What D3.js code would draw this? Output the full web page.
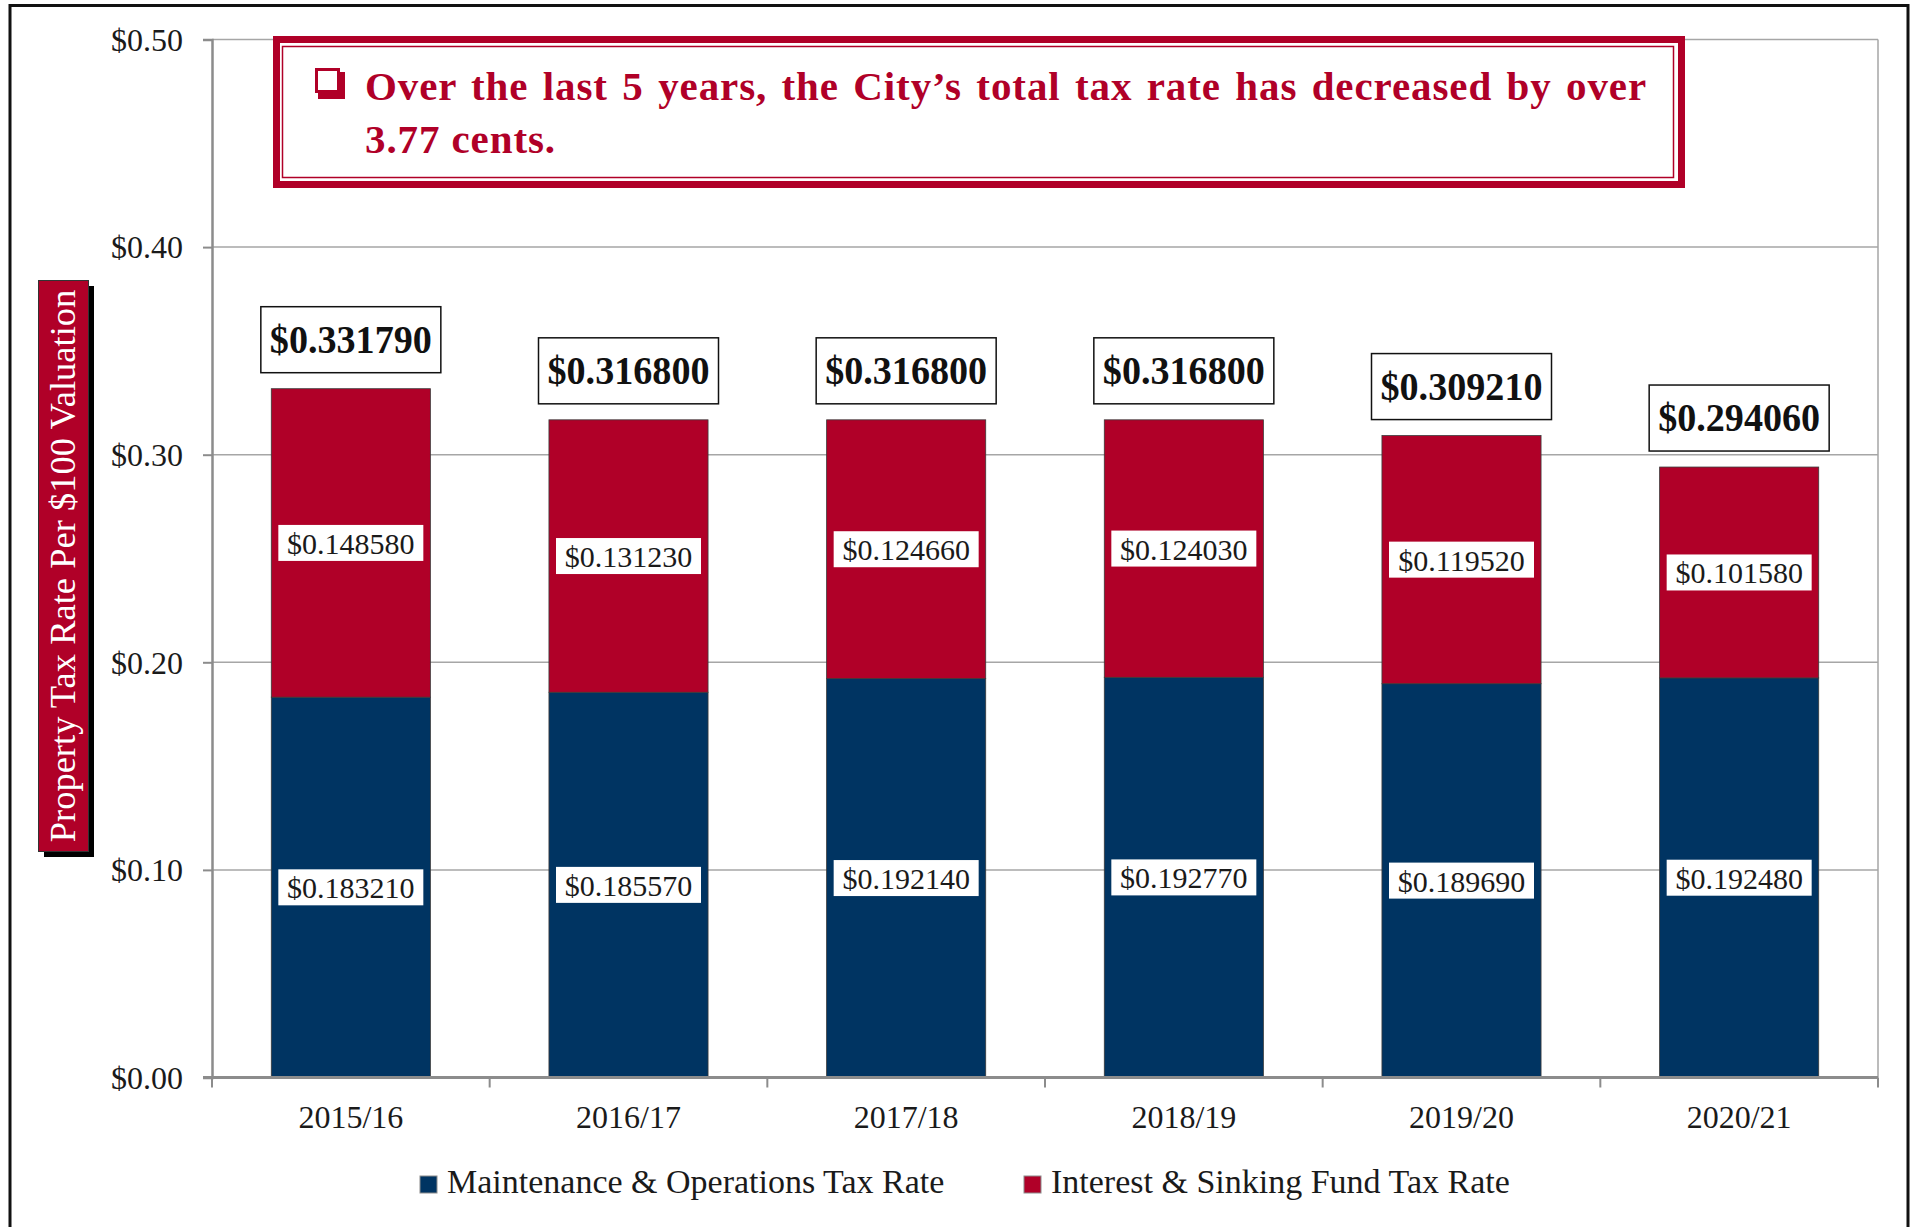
<!DOCTYPE html>
<html lang="en">
  <head>
    <meta charset="utf-8">
    <title>Property tax rate per $100 valuation</title>
    <script type="text/javascript" src="https://d3js.org/d3.v7.min.js"></script>
    <style>
      body {
        margin: 0;
        background: #ffffff;
        font-family: 'Liberation Serif', 'Times New Roman', serif;
      }
      .grid line {
        stroke: #a6a6a6;
        stroke-width: 1.5;
      }
      .bar {
        stroke: #3a3a3a;
        stroke-width: 0.8;
      }
      .tick-label {
        font-size: 32px;
        fill: #1a1a1a;
      }
    </style>
  </head>
  <body>
    <div id="chart"></div>
    <script type="text/javascript">

      // data
      var years = ['2015/16', '2016/17', '2017/18', '2018/19', '2019/20', '2020/21'];
      var moRates = [0.183210, 0.185570, 0.192140, 0.192770, 0.189690, 0.192480];
      var isRates = [0.148580, 0.131230, 0.124660, 0.124030, 0.119520, 0.101580];
      var seriesNames = ['Maintenance & Operations Tax Rate', 'Interest & Sinking Fund Tax Rate'];
      var seriesColors = ['#003462', '#b00028'];
      var yTicks = [0, 0.1, 0.2, 0.3, 0.4, 0.5];
      var yTitle = 'Property Tax Rate Per $100 Valuation';
      var calloutLines = ['Over the last 5 years, the City\u2019s total tax rate has decreased by over', '3.77 cents.'];

      var w = 1915;
      var h = 1227;
      var red = '#b00028';

      var svg = d3.select('#chart')
        .append('svg')
          .attr('width', w)
          .attr('height', h)
          .style('display', 'block');

      // outer frame (no bottom edge visible)
      svg.append('path')
        .attr('d', 'M10,1227 L10,5.5 L1908,5.5 L1908,1227')
        .attr('fill', 'none')
        .attr('stroke', '#111')
        .attr('stroke-width', 3);

      var x = d3.scaleBand()
        .domain(years)
        .range([212, 1878])
        .paddingInner(0.427)
        .paddingOuter(0.2135);

      var y = d3.scaleLinear()
        .domain([0, 0.5])
        .range([1077.5, 39.5]);

      var step = x.step();

      // gridlines
      svg.append('g')
        .attr('class', 'grid')
        .selectAll('line')
        .data(yTicks.filter(function(d) { return d > 0; }))
        .enter()
        .append('line')
          .attr('x1', 212)
          .attr('x2', 1878)
          .attr('y1', function(d) { return y(d); })
          .attr('y2', function(d) { return y(d); });

      // right edge of plot area
      svg.append('line')
        .attr('x1', 1878).attr('x2', 1878)
        .attr('y1', y(0.5)).attr('y2', y(0))
        .attr('stroke', '#a6a6a6')
        .attr('stroke-width', 1.5);

      // stacked bars
      var table = years.map(function(yr, i) {
        return { year: yr, mo: moRates[i], is: isRates[i] };
      });
      var stack = d3.stack().keys(['mo', 'is']);
      var series = stack(table);

      var layers = svg.selectAll('.layer')
        .data(series)
        .enter()
        .append('g')
          .attr('class', 'layer')
          .style('fill', function(d, i) { return seriesColors[i]; });

      layers.selectAll('.bar')
        .data(function(d) { return d; })
        .enter()
        .append('rect')
          .attr('class', 'bar')
          .attr('x', function(d) { return x(d.data.year); })
          .attr('y', function(d) { return y(d[1]); })
          .attr('width', x.bandwidth())
          .attr('height', function(d) { return y(d[0]) - y(d[1]); });

      // segment labels (white boxes)
      var segLabels = svg.append('g');
      series.forEach(function(s) {
        s.forEach(function(d) {
          var cx = x(d.data.year) + x.bandwidth() / 2;
          var cy = y((d[0] + d[1]) / 2);
          var lab = segLabels.append('g').attr('transform', 'translate(' + cx + ',' + cy + ')');
          lab.append('rect')
            .attr('x', -72.5).attr('y', -18)
            .attr('width', 145).attr('height', 36)
            .attr('fill', '#ffffff');
          lab.append('text')
            .attr('text-anchor', 'middle')
            .attr('y', 11)
            .style('font-size', '30px')
            .style('fill', '#1a1a1a')
            .text('$' + (d[1] - d[0]).toFixed(6));
        });
      });

      // total labels above bars
      var totals = svg.append('g');
      table.forEach(function(d) {
        var total = d.mo + d.is;
        var cx = x(d.year) + x.bandwidth() / 2;
        var top = y(total);
        var lab = totals.append('g').attr('transform', 'translate(' + cx + ',' + (top - 16) + ')');
        lab.append('rect')
          .attr('x', -90).attr('y', -66)
          .attr('width', 180).attr('height', 66)
          .attr('fill', '#ffffff')
          .attr('stroke', '#111')
          .attr('stroke-width', 1.5);
        lab.append('text')
          .attr('text-anchor', 'middle')
          .attr('y', -20)
          .attr('textLength', 162)
          .attr('lengthAdjust', 'spacingAndGlyphs')
          .style('font-size', '41px')
          .style('font-weight', 'bold')
          .style('fill', '#111')
          .text('$' + total.toFixed(6));
      });

      // y axis
      var yAxis = d3.axisLeft(y)
        .tickValues(yTicks)
        .tickFormat(function(d) { return '$' + d.toFixed(2); })
        .tickSize(9)
        .tickPadding(20);

      var yAxisG = svg.append('g')
        .attr('transform', 'translate(212,0)')
        .call(yAxis);
      yAxisG.select('.domain').attr('stroke', '#8c8c8c').attr('stroke-width', 2.5);
      yAxisG.selectAll('.tick line').attr('stroke', '#8c8c8c').attr('stroke-width', 2);
      yAxisG.selectAll('.tick text')
        .attr('class', 'tick-label')
        .style('font-family', "'Liberation Serif', 'Times New Roman', serif")
        .attr('dy', '0.34em');

      // x axis: baseline, boundary ticks, year labels
      svg.append('line')
        .attr('x1', 203).attr('x2', 1878)
        .attr('y1', y(0)).attr('y2', y(0))
        .attr('stroke', '#8c8c8c')
        .attr('stroke-width', 3);

      var bounds = years.map(function(yr) { return x(yr) - step * x.paddingInner() / 2; });
      bounds.push(1878);
      svg.append('g')
        .selectAll('line')
        .data(bounds)
        .enter()
        .append('line')
          .attr('x1', function(d) { return d; })
          .attr('x2', function(d) { return d; })
          .attr('y1', y(0))
          .attr('y2', y(0) + 10)
          .attr('stroke', '#8c8c8c')
          .attr('stroke-width', 2);

      svg.append('g')
        .selectAll('text')
        .data(years)
        .enter()
        .append('text')
          .attr('class', 'tick-label')
          .attr('text-anchor', 'middle')
          .attr('x', function(d) { return x(d) + x.bandwidth() / 2; })
          .attr('y', 1128)
          .text(function(d) { return d; });

      // y axis title, red box with drop shadow
      svg.append('rect')
        .attr('x', 44).attr('y', 286)
        .attr('width', 50).attr('height', 571)
        .attr('fill', '#000');
      svg.append('rect')
        .attr('x', 38.5).attr('y', 280.5)
        .attr('width', 50).attr('height', 571)
        .attr('fill', red)
        .attr('stroke', '#333')
        .attr('stroke-width', 1);
      svg.append('text')
        .attr('transform', 'translate(75,' + 566 + ') rotate(-90)')
        .attr('text-anchor', 'middle')
        .style('font-size', '36.5px')
        .style('fill', '#ffffff')
        .text(yTitle);

      // callout box
      var callout = svg.append('g');
      callout.append('rect')
        .attr('x', 276.5).attr('y', 39.5)
        .attr('width', 1405).attr('height', 145)
        .attr('fill', '#ffffff')
        .attr('stroke', red)
        .attr('stroke-width', 7);
      callout.append('rect')
        .attr('x', 282.5).attr('y', 46.5)
        .attr('width', 1391).attr('height', 131)
        .attr('fill', 'none')
        .attr('stroke', red)
        .attr('stroke-width', 1.5);

      // shadowed box bullet
      callout.append('rect')
        .attr('x', 318).attr('y', 72)
        .attr('width', 27).attr('height', 27)
        .attr('fill', red);
      callout.append('rect')
        .attr('x', 316.5).attr('y', 69.5)
        .attr('width', 22).attr('height', 22)
        .attr('fill', '#ffffff')
        .attr('stroke', red)
        .attr('stroke-width', 3);

      var line1 = callout.append('text')
        .attr('x', 365).attr('y', 100)
        .style('font-size', '41px')
        .style('font-weight', 'bold')
        .style('letter-spacing', '0.9px')
        .style('fill', red)
        .text(calloutLines[0]);
      var gaps = calloutLines[0].split(' ').length - 1;
      var natural = line1.node().getComputedTextLength();
      line1.style('word-spacing', Math.max(0, (1647 - 365 - natural) / gaps) + 'px');

      callout.append('text')
        .attr('x', 365).attr('y', 153)
        .style('font-size', '41px')
        .style('font-weight', 'bold')
        .style('letter-spacing', '0.9px')
        .style('fill', red)
        .text(calloutLines[1]);

      // legend
      var legendX = [420, 1024];
      var legend = svg.append('g');
      seriesNames.forEach(function(name, i) {
        legend.append('rect')
          .attr('x', legendX[i]).attr('y', 1176)
          .attr('width', 17).attr('height', 17)
          .attr('fill', seriesColors[i])
          .attr('stroke', '#8c8c8c')
          .attr('stroke-width', 1);
        legend.append('text')
          .attr('class', 'tick-label')
          .attr('x', legendX[i] + 27)
          .attr('y', 1193)
          .style('font-size', '34px')
          .text(name);
      });

    </script>
  </body>
</html>
